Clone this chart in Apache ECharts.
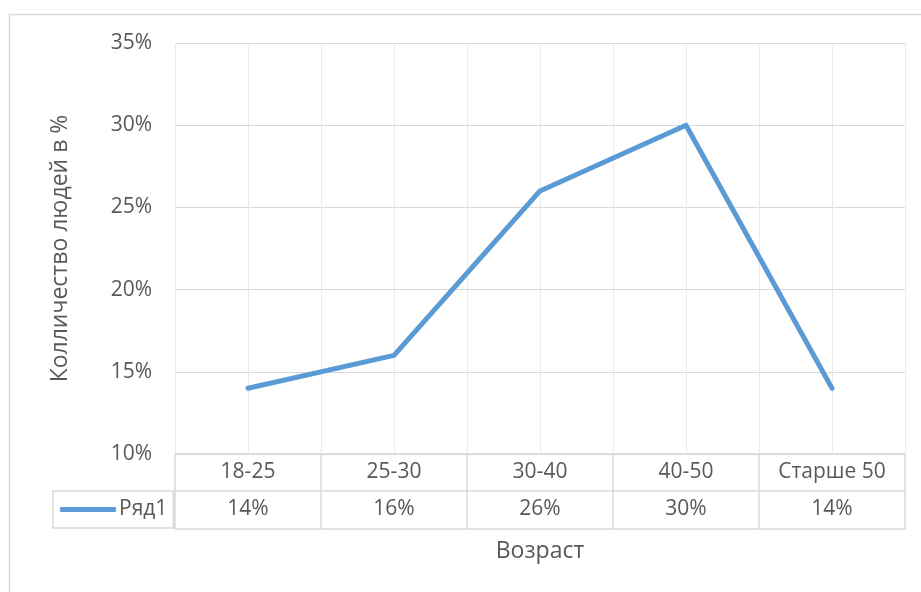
<!DOCTYPE html>
<html>
<head>
<meta charset="utf-8">
<script src="https://cdn.jsdelivr.net/npm/echarts@6/dist/echarts.min.js"></script>
<style>
  html, body { margin: 0; padding: 0; background: #fff; }
  #chart { width: 921px; height: 592px; }
</style>
</head>
<body>
<div id="chart"></div>
<script>
// Age groups and share of people in each (percent)
const categories = ['18-25', '25-30', '30-40', '40-50', 'Старше 50'];
const seriesName = 'Ряд1';
const values = [14, 16, 26, 30, 14];
const yTicks = { min: 10, max: 35, step: 5 };

const textColor = '#595959';
const tableLine = '#D9D9D9';
const fontFamily = '"Open Sans", "Noto Sans", sans-serif';
const fontSize = 21;
const titleSize = 23;

const chart = echarts.init(document.getElementById('chart'), null, { renderer: 'canvas' });

chart.setOption({
  backgroundColor: '#fff',
  animation: false,
  textStyle: { fontFamily: fontFamily, color: textColor },
  graphic: [{
    // chart-area frame
    type: 'rect',
    left: 7, top: 12,
    shape: { width: 1000, height: 1000 },
    style: { fill: 'none', stroke: tableLine, lineWidth: 1.5 },
    silent: true
  }],
  grid: { left: 175, right: 16, top: 43, bottom: 138, containLabel: false },
  legend: {
    data: [seriesName],
    left: 53, top: 491,
    orient: 'horizontal',
    icon: 'roundRect',
    itemWidth: 56, itemHeight: 5,
    itemGap: 0,
    padding: [8, 6, 8, 7],
    borderColor: tableLine, borderWidth: 1.5, borderRadius: 0,
    textStyle: { fontFamily: fontFamily, fontSize: fontSize, color: textColor, padding: [0, 0, 0, -2] }
  },
  xAxis: [
    {
      // category row of the data table
      type: 'category',
      data: categories,
      boundaryGap: true,
      position: 'bottom',
      axisLine: { show: true, lineStyle: { color: tableLine, width: 1.5 } },
      axisTick: { show: true, length: 75, interval: 0, lineStyle: { color: tableLine, width: 1.5 } },
      axisLabel: { interval: 0, margin: 8, fontSize: fontSize, color: textColor, fontFamily: fontFamily },
      splitLine: { show: false }
    },
    {
      // value row of the data table
      type: 'category',
      data: categories,
      boundaryGap: true,
      position: 'bottom',
      offset: 37,
      axisLine: { show: true, lineStyle: { color: tableLine, width: 1.5 } },
      axisTick: { show: false },
      axisLabel: {
        interval: 0, margin: 8, fontSize: fontSize, color: textColor, fontFamily: fontFamily,
        formatter: (v, i) => values[i] + '%'
      },
      splitLine: { show: false }
    },
    {
      // bottom edge of the table and the axis title
      type: 'category',
      data: categories,
      position: 'bottom',
      offset: 75,
      axisLine: { show: true, lineStyle: { color: tableLine, width: 1.5 } },
      axisTick: { show: false },
      axisLabel: { show: false },
      name: 'Возраст',
      nameLocation: 'middle',
      nameGap: 11,
      nameTextStyle: { fontSize: titleSize, color: textColor, fontFamily: fontFamily, verticalAlign: 'top' }
    },
    {
      // vertical gridlines at category edges and centres
      type: 'value',
      min: 0, max: categories.length * 2, interval: 1,
      position: 'top',
      axisLine: { show: false }, axisTick: { show: false }, axisLabel: { show: false },
      splitLine: { show: true, lineStyle: { color: '#EBEBEB', width: 1 } }
    }
  ],
  yAxis: {
    type: 'value',
    min: yTicks.min, max: yTicks.max, interval: yTicks.step,
    axisLine: { show: false },
    axisTick: { show: false },
    axisLabel: { formatter: '{value}%', margin: 23, fontSize: fontSize, color: textColor, fontFamily: fontFamily },
    splitLine: { show: true, lineStyle: { color: tableLine, width: 1.2 } },
    name: 'Колличество людей в %',
    nameLocation: 'middle',
    nameGap: 103,
    nameTextStyle: { fontSize: titleSize, color: textColor, fontFamily: fontFamily }
  },
  series: [{
    name: seriesName,
    type: 'line',
    xAxisIndex: 0,
    data: values,
    symbol: 'none',
    lineStyle: { color: '#5B9BD5', width: 5, cap: 'round', join: 'round' },
    itemStyle: { color: '#5B9BD5' }
  }]
});
</script>
</body>
</html>
